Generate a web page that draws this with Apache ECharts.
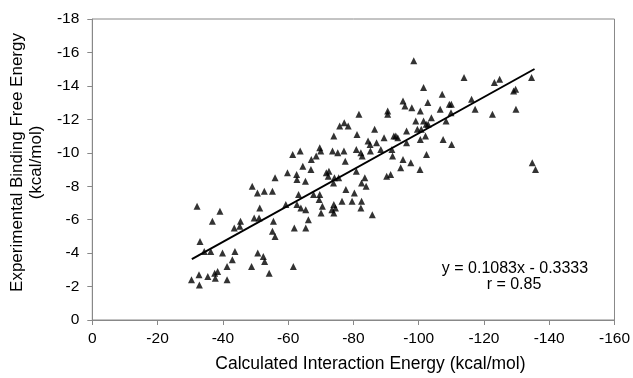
<!DOCTYPE html>
<html>
<head>
<meta charset="utf-8">
<script src="https://cdn.jsdelivr.net/npm/echarts@6/dist/echarts.min.js"></script>
<style>html,body{margin:0;padding:0;background:#fff}#c{width:633px;height:378px}</style>
</head>
<body>
<div id="c"></div>
<script>
// Calculated interaction energy (kcal/mol)
var calcEnergy = [-30.4,-32.7,-32.8,-35.4,-37.5,-38.4,-37.7,-41.3,-41.3,-42.9,-43.7,-39.9,-36.3,-34.3,-33.0,-48.8,-50.7,-52.4,-52.8,-54.2,-61.6,-32.1,-39.1,-36.8,-43.5,-45.2,-45.4,-49.6,-51.1,-51.3,-55.5,-55.2,-56.0,-59.3,-61.9,-65.4,-66.2,-62.7,-63.9,-65.4,-63.2,-49.0,-50.6,-52.7,-55.2,-56.0,-59.8,-62.6,-62.7,-65.3,-61.4,-63.7,-64.5,-67.1,-68.6,-67.0,-69.7,-70.0,-67.8,-69.7,-69.5,-70.5,-70.1,-71.7,-72.5,-72.3,-74.2,-73.9,-75.5,-77.7,-76.5,-79.6,-82.5,-80.3,-82.3,-74.0,-74.5,-73.4,-74.0,-85.8,-83.5,-82.5,-83.9,-90.2,-91.4,-77.5,-80.9,-73.6,-75.2,-77.1,-80.9,-82.3,-82.7,-85.2,-88.4,-91.8,-92.0,-102.4,-95.2,-97.6,-94.5,-100.4,-84.5,-85.1,-87.1,-96.3,-89.4,-92.4,-93.0,-93.6,-102.1,-100.5,-107.5,-110.1,-96.3,-86.5,-81.1,-74.0,-99.6,-100.8,-77.2,-78.4,-75.8,-81.7,-90.5,-90.5,-99.1,-101.5,-102.3,-102.9,-108.4,-103.9,-109.9,-106.6,-109.4,-110.0,-95.2,-95.8,-97.9,-100.5,-102.8,-98.5,-101.5,-113.9,-123.2,-124.8,-134.6,-129.1,-129.7,-107.2,-116.2,-117.3,-129.8,-122.6,-134.8,-135.8];
// Experimental binding free energy (kcal/mol)
var expEnergy = [-2.4,-2.7,-2.1,-2.6,-2.8,-2.9,-2.5,-2.4,-3.2,-3.6,-4.1,-4.0,-4.1,-4.1,-4.7,-3.2,-4.0,-3.8,-3.5,-2.8,-3.2,-6.8,-6.5,-5.9,-5.5,-5.6,-5.9,-6.1,-6.1,-6.7,-5.9,-5.3,-5.0,-6.9,-5.5,-5.5,-6.0,-6.9,-6.7,-6.6,-7.5,-8.0,-7.6,-7.7,-7.7,-8.5,-8.8,-8.7,-8.4,-8.3,-9.9,-10.1,-9.2,-9.6,-9.8,-9.0,-10.3,-10.1,-7.5,-7.5,-7.2,-6.8,-6.4,-8.8,-8.9,-8.6,-8.5,-8.2,-8.5,-7.8,-7.1,-7.1,-7.1,-7.6,-6.7,-6.9,-6.7,-6.6,-6.4,-6.3,-8.5,-8.2,-8.0,-8.6,-8.7,-9.5,-8.9,-10.1,-10.0,-10.1,-10.2,-10.0,-9.8,-10.1,-10.2,-10.2,-9.8,-9.9,-9.6,-9.4,-9.1,-9.0,-10.7,-10.5,-10.6,-10.6,-10.9,-11.0,-11.0,-10.9,-11.0,-10.8,-10.8,-10.5,-11.3,-11.4,-11.1,-11.0,-11.4,-11.4,-11.8,-11.6,-11.6,-12.3,-12.5,-12.3,-11.9,-11.9,-11.7,-11.7,-11.9,-12.1,-12.4,-12.6,-12.9,-12.9,-13.1,-12.8,-12.7,-12.5,-13.0,-15.5,-13.9,-14.5,-14.2,-14.4,-14.5,-13.7,-13.8,-13.5,-13.2,-12.6,-12.6,-12.3,-9.4,-9.0];
// Trend line endpoints (y = 0.1083x - 0.3333)
var trendX = [-30.5, -135.5];
var trendY = [-3.64, -15.01];
var xTicks = [0,-20,-40,-60,-80,-100,-120,-140,-160];
var yTicks = [0,-2,-4,-6,-8,-10,-12,-14,-16,-18];
var equationText = 'y = 0.1083x - 0.3333';
var rText = 'r = 0.85';

var pts = calcEnergy.map(function(x,i){return [x, expEnergy[i]];});
var trend = trendX.map(function(x,i){return [x, trendY[i]];});
var font = 'Liberation Sans, Arial, sans-serif';
var chart = echarts.init(document.getElementById('c'), null, {renderer:'canvas'});
chart.setOption({
  animation:false,
  backgroundColor:'#fff',
  grid:{left:89,right:16,top:19,bottom:57,show:true,borderColor:'#888',borderWidth:1,backgroundColor:'transparent'},
  xAxis:{type:'value',min:-160,max:0,interval:20,inverse:true,
    name:'Calculated Interaction Energy (kcal/mol)',nameLocation:'middle',nameGap:35,
    nameTextStyle:{fontFamily:font,fontSize:17.5,color:'#000',padding:[0,0,0,34]},
    axisLine:{show:true,lineStyle:{color:'#888'}},
    axisTick:{show:true,inside:false,length:5,lineStyle:{color:'#888'}},
    axisLabel:{fontFamily:font,fontSize:15.5,color:'#000',margin:11},
    splitLine:{show:false}},
  yAxis:{type:'value',min:-18,max:0,interval:2,inverse:true,
    name:'Experimental Binding Free Energy\n(kcal/mol)',nameLocation:'middle',nameGap:41,nameRotate:90,
    nameTextStyle:{fontFamily:font,fontSize:17,color:'#000',lineHeight:19,padding:[0,0,0,14]},
    axisLine:{show:true,lineStyle:{color:'#888'}},
    axisTick:{show:true,inside:false,length:5,lineStyle:{color:'#888'}},
    axisLabel:{fontFamily:font,fontSize:15.5,color:'#000',margin:13},
    splitLine:{show:false}},
  series:[
    {type:'scatter',data:pts,symbol:'triangle',symbolSize:7,itemStyle:{color:'#000'},z:3},
    {type:'line',data:trend,showSymbol:false,symbol:'none',lineStyle:{color:'#000',width:2},z:4}
  ],
  graphic:[
    {type:'text',x:515,y:268.5,style:{text:equationText,fontFamily:font,fontSize:16,fill:'#000',textAlign:'center',textVerticalAlign:'middle'}},
    {type:'text',x:514,y:284.5,style:{text:rText,fontFamily:font,fontSize:16,fill:'#000',textAlign:'center',textVerticalAlign:'middle'}}
  ]
});
</script>
</body>
</html>
